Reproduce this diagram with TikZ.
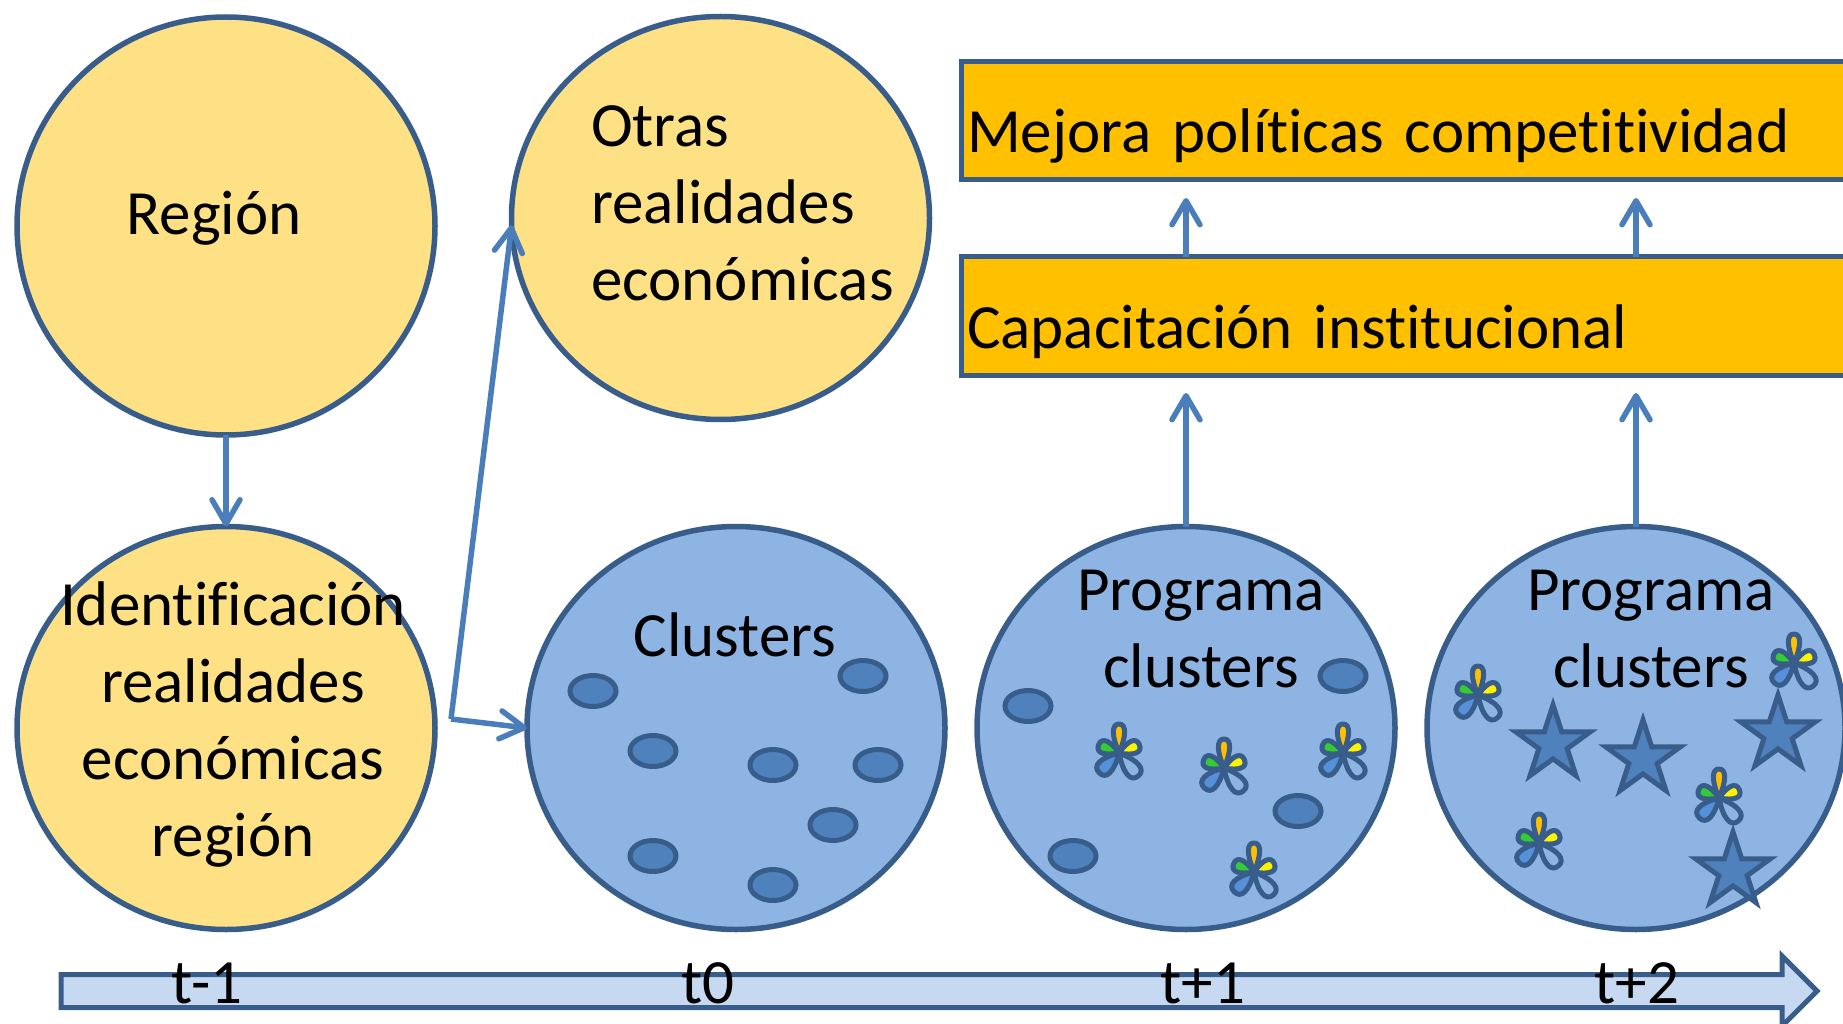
\documentclass[tikz,border=0pt]{standalone}
\usepackage{fontspec}
\setmainfont[Ligatures=NoCommon]{Carlito}
\usetikzlibrary{arrows.meta,shapes.geometric,shapes.arrows}

\definecolor{edgeblue}{HTML}{385D8A}
\definecolor{flowblue}{HTML}{4A7EBB}
\definecolor{darkblue}{HTML}{4F81BD}
\definecolor{discblue}{HTML}{8EB4E3}
\definecolor{discyellow}{HTML}{FEE085}
\definecolor{boxorange}{HTML}{FFC000}
\definecolor{timeblue}{HTML}{C6D9F1}
\definecolor{petalgreen}{HTML}{33CC33}
\definecolor{petalblue}{HTML}{5590D8}

\newcommand{\petal}[4]{%
  \draw[edgeblue,line width=5pt,line join=round,fill=#4,rotate=#1]
    (0,0) .. controls (-#3,-0.6*#2) and (-#3,-#2) .. (0,-#2)
          .. controls (#3,-#2) and (#3,-0.6*#2) .. (0,0);}

\tikzset{flower/.pic={
  \petal{0}{29}{7.5}{boxorange}
  \petal{68}{22}{8.5}{petalgreen}
  \petal{-68}{22}{8.5}{yellow}
  \petal{135}{28}{10}{petalblue}
  \petal{-140}{30}{10}{discblue}
}}

\begin{document}
\begin{tikzpicture}[x=1pt,y=-1pt,node distance=450pt,
                    every node/.style={outer sep=0pt},
                    flow/.style={draw=flowblue,line width=5.5pt,
                      -{Straight Barb[length=24pt,width=28pt,round]}}]
  \tikzstyle{yellow disc}=[ellipse,draw=edgeblue,line width=5.5pt,fill=discyellow,
                           minimum width=418pt,minimum height=403pt,inner sep=0pt]
  \tikzstyle{blue disc}=[yellow disc,fill=discblue]
  \tikzstyle{seed}=[ellipse,draw=edgeblue,line width=5pt,fill=darkblue,
                    minimum width=46pt,minimum height=31pt,inner sep=0pt]
  \tikzstyle{starmark}=[star,star points=5,star point ratio=2.618,draw=edgeblue,
                        line width=5pt,fill=darkblue,minimum size=78pt,inner sep=0pt]
  \tikzstyle{band}=[rectangle,draw=edgeblue,line width=5pt,fill=boxorange,anchor=west,
                    minimum height=118pt,text width=1000pt,align=left,inner xsep=6pt,
                    text height=64pt,text depth=0pt,
                    font=\fontsize{63}{70}\selectfont]
  \tikzstyle{label}=[font=\fontsize{63}{77}\selectfont,align=center,inner sep=0pt]

  \useasboundingbox (0,0) rectangle (1843,1024);
  \clip (0,0) rectangle (1843,1024);

  \node[yellow disc,minimum height=418pt] (region) at (226,226) {};
  \node[yellow disc]   (ident) at (226,728)   {};
  \node[yellow disc]   (otras) at (720.5,218) {};
  \node[blue disc]     (clusters) at (736,728) {};
  \node[blue disc]     (prog1) [right of=clusters] {};
  \node[blue disc]     (prog2) [right of=prog1] {};

  \node[band] (mejora) at (961,121) {Mejora políticas competitividad};
  \node[band] (capac)  at (961,316) {Capacitación institucional};

  % seeds in clusters
  \node[seed] (s1) at (593,691)  {};
  \node[seed] (s2) at (653,751)  {};
  \node[seed] (s3) at (863,676)  {};
  \node[seed] (s4) at (773,765)  {};
  \node[seed] (s5) at (878,765)  {};
  \node[seed] (s6) at (833,825)  {};
  \node[seed] (s7) at (653,856)  {};
  \node[seed] (s8) at (773,885)  {};

  % seeds in first programme
  \node[seed] (p1) at (1028,706) {};
  \node[seed] (p2) at (1343,676) {};
  \node[seed] (p3) at (1298,811) {};
  \node[seed] (p4) at (1073,856) {};

  \pic (f1) at (1119,753) {flower};
  \pic (f2) at (1224,768) {flower};
  \pic (f3) at (1343,753) {flower};
  \pic (f4) at (1254,872) {flower};

  % second programme
  \pic (f5) at (1478,695) {flower};
  \pic (f6) at (1794,663) {flower};
  \pic (f7) at (1719,798) {flower};
  \pic (f8) at (1539,843) {flower};

  \node[starmark] (st1) at (1553,744) {};
  \node[starmark] (st2) at (1643,759) {};
  \node[starmark] (st3) at (1778,734) {};
  \node[starmark] (st4) at (1733,871) {};

  % time line
  \node[single arrow,draw=edgeblue,line width=5pt,fill=timeblue,anchor=tail,
        minimum height=1756pt,single arrow head extend=18.5pt,
        single arrow head indent=0pt,single arrow tip angle=90,inner sep=14pt]
        (timeline) at (61,991) {};

  \node[label] (lregion) at (214,218)   {Región};
  \node[label] (lident)  at (233,725)   {Identificación\\realidades\\económicas\\región};
  \node[label,align=left,anchor=west] (lotras) at (591,203) {Otras\\realidades\\económicas};
  \node[label] (lclusters) at (735,635) {Clusters};
  \node[label] (lprog1) at (1201,629)   {Programa\\clusters};
  \node[label] (lprog2) at (1651,629)   {Programa\\clusters};

  \node[label] (t0) at (207,983)  {t-1};
  \node[label] (t1) at (708,983)  {t0};
  \node[label] (t2) at (1203,983) {t+1};
  \node[label] (t3) at (1637,983) {t+2};

  \coordinate (split) at (451,719);

  \path (region) edge [flow] (ident)
        (split)  edge [flow] (otras.182)
        (split)  edge [flow] (clusters.west);
  \path (prog1.north) edge [flow,shorten >=18pt] (prog1.north |- capac.south)
        (prog2.north) edge [flow,shorten >=18pt] (prog2.north |- capac.south)
        (prog1.north |- capac.north) edge [flow,shorten >=18pt] (prog1.north |- mejora.south)
        (prog2.north |- capac.north) edge [flow,shorten >=18pt] (prog2.north |- mejora.south);
\end{tikzpicture}
\end{document}
